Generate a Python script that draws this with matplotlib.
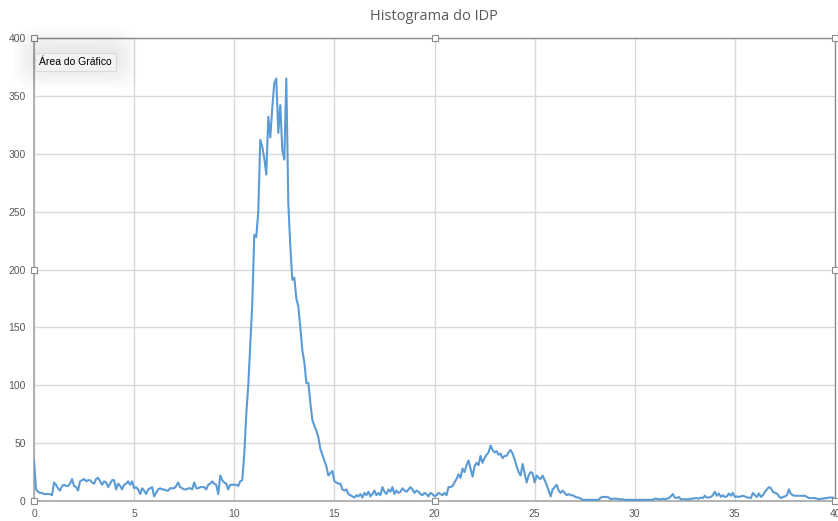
import matplotlib
matplotlib.use("Agg")
import matplotlib.pyplot as plt
import numpy as np
from matplotlib.patches import FancyBboxPatch

title = "Histograma do IDP"
tooltip = "Área do Gráfico"
x_ticks = [0, 5, 10, 15, 20, 25, 30, 35, 40]
y_ticks = [0, 50, 100, 150, 200, 250, 300, 350, 400]

# bin positions 0.0 .. 40.0 step 0.1
bins = [i / 10 for i in range(401)]

counts_0_10 = [
    35, 10, 8, 7, 7, 6, 6, 6, 6, 5,
    16, 14, 11, 9, 13, 14, 13, 13, 15, 19,
    13, 12, 9, 17, 18, 19, 17, 18, 18, 16,
    15, 19, 20, 17, 14, 17, 16, 12, 15, 18,
    18, 10, 15, 13, 10, 14, 15, 17, 14, 17,
    11, 12, 10, 6, 11, 9, 6, 10, 11, 12,
    4, 7, 10, 11, 10, 10, 9, 9, 11, 11,
    11, 13, 16, 12, 11, 10, 10, 11, 11, 10,
    16, 11, 11, 12, 12, 12, 10, 14, 15, 17,
    15, 14, 6, 22, 18, 16, 15, 10, 14, 14,
]
counts_10_16 = [
    14, 14, 13, 17, 18, 40, 75, 100, 135, 170,
    230, 228, 250, 312, 306, 296, 282, 332, 314, 340,
    361, 365, 318, 342, 303, 295, 365, 257, 220, 191,
    193, 175, 168, 150, 130, 120, 102, 102, 85, 70,
    65, 61, 55, 45, 40, 35, 30, 22, 24, 26,
    17, 16, 15, 15, 10, 9, 10, 6, 5, 4,
]
counts_16_20 = [
    3, 5, 4, 6, 3, 7, 5, 8, 4, 6,
    9, 5, 7, 5, 12, 8, 6, 10, 8, 12,
    6, 9, 7, 8, 11, 9, 8, 10, 12, 10,
    7, 9, 8, 6, 5, 7, 6, 4, 7, 6,
]
counts_20_27 = [
    4, 5, 7, 6, 5, 7, 5, 12, 12, 13,
    16, 19, 23, 20, 28, 25, 31, 35, 28, 21,
    30, 33, 31, 39, 33, 37, 40, 42, 48, 44,
    42, 43, 40, 41, 37, 39, 39, 42, 44, 41,
    36, 30, 25, 22, 32, 24, 16, 22, 25, 24,
    16, 22, 20, 19, 22, 18, 14, 9, 4, 10,
    12, 14, 9, 7, 9, 7, 5, 6, 5, 5,
]
counts_27_40 = [
    4, 3, 3, 2, 1, 1, 1, 1, 1, 1,
    1, 1, 1, 3, 3.5, 3.5, 3.5, 3, 1.5, 2,
    2, 2, 1.5, 1.5, 1.5, 1, 1, 1, 1, 1,
    1, 1, 1, 1, 1, 1, 1, 1, 1, 1,
    2, 2, 1.5, 1.5, 2, 1.5, 2, 2.5, 4, 6,
    3, 2.5, 3.5, 1.5, 1.5, 1.5, 1.5, 1.5, 2, 2,
    2.5, 2.5, 2, 3, 2.5, 4.5, 3, 3, 3.5, 5,
    8, 4.5, 6.5, 3.5, 5, 3.5, 4, 6.5, 4.5, 7,
    3.5, 4, 3.5, 4, 4.5, 4, 3, 3, 2.5, 7,
    5, 3.5, 6.5, 3.5, 5, 8, 10, 12, 11, 8,
    7, 6.5, 4, 2.5, 3.5, 4, 5, 10, 6, 5,
    4.5, 4.5, 4.5, 4.5, 4.5, 4.5, 3.5, 2.5, 2.5, 2.5,
    2.5, 2, 1.5, 2, 2, 2.5, 2.5, 3, 3, 3,
    1,
]
counts = counts_0_10 + counts_10_16 + counts_16_20 + counts_20_27 + counts_27_40

W, H = 838, 521
fig = plt.figure(figsize=(W / 100, H / 100), dpi=100)
fig.patch.set_facecolor("white")
L, R, B, T = 34, 835, 501, 38
ax = fig.add_axes([L / W, (H - B) / H, (R - L) / W, (B - T) / H])
ax.set_facecolor("white")

ax.plot(bins, counts, color="#5b9bd5", lw=1.5, solid_joinstyle="round", zorder=3)

ax.set_xlim(0, 40)
ax.set_ylim(0, 400)
ax.set_xticks(x_ticks)
ax.set_yticks(y_ticks)
ax.tick_params(length=0, labelsize=7.5, colors="#595959", pad=6)
for lab in ax.get_xticklabels() + ax.get_yticklabels():
    lab.set_fontfamily("Liberation Sans")
ax.grid(True, color="#d9d9d9", lw=1.0, zorder=0)
for side in ["left", "bottom"]:
    ax.spines[side].set_color("#a6a6a6")
    ax.spines[side].set_linewidth(1.2)
for side in ["top", "right"]:
    ax.spines[side].set_color("#8c8c8c")
    ax.spines[side].set_linewidth(1.0)

# selection handles
hx = [0, 0.5, 1, 0, 1, 0, 0.5, 1]
hy = [1, 1, 1, 0.5, 0.5, 0, 0, 0]
ax.plot(hx, hy, ls="none", marker="s", ms=5, mfc="white", mec="#8c8c8c",
        mew=0.8, transform=ax.transAxes, clip_on=False, zorder=10)

fig.text(434 / W, 1 - 16 / H, title, ha="center", va="center",
         fontsize=10.5, color="#595959", family="Open Sans")

# tooltip soft shadow
bx0, by0, bw, bh = 35, 53, 81, 18
for pad in range(22, 0, -2):
    p = FancyBboxPatch(((bx0 - pad) / W, 1 - (by0 + bh + pad - 4) / H),
                       (bw + 2 * pad) / W, (bh + 2 * pad) / H,
                       boxstyle="round,pad=0,rounding_size=0.03",
                       transform=fig.transFigure, fc="black", ec="none",
                       alpha=0.006, zorder=20)
    fig.add_artist(p)
box = FancyBboxPatch((bx0 / W, 1 - (by0 + bh) / H), bw / W, bh / H,
                     boxstyle="square,pad=0", transform=fig.transFigure,
                     fc="#f2f2f2", ec="#d6d6d6", lw=0.6, zorder=22)
fig.add_artist(box)
fig.text((bx0 + 4) / W, 1 - (by0 + bh / 2) / H, tooltip, ha="left", va="center",
         fontsize=7.5, color="black", family="Liberation Sans", zorder=25)

fig.savefig("out.png", dpi=100, facecolor="white")
